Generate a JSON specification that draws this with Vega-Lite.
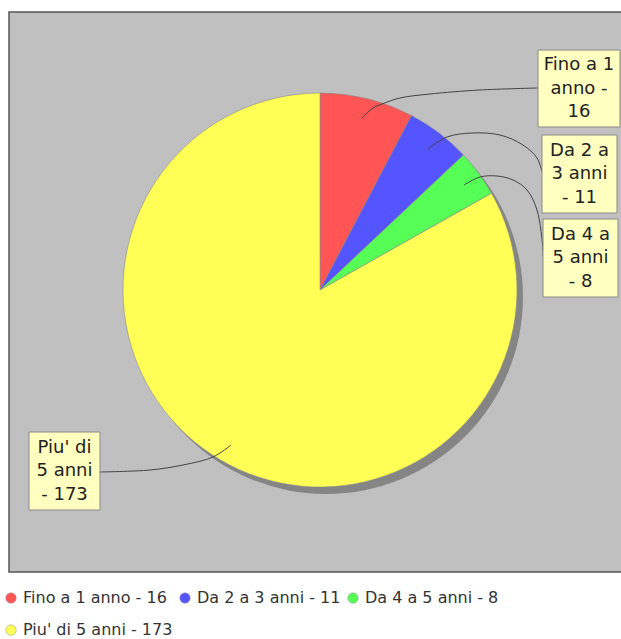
{
  "$schema": "https://vega.github.io/schema/vega-lite/v6.json",
  "width": 622,
  "height": 560,
  "autosize": {"type": "none"},
  "padding": {"left": 9, "top": 12, "right": 0, "bottom": 67},
  "background": "white",
  "config": {
    "view": {"fill": "#c0c0c0", "stroke": "#555555", "strokeWidth": 1.5},
    "font": "DejaVu Sans"
  },
  "datasets": {
    "torta": [
      {"categoria": "Fino a 1 anno", "valore": 16},
      {"categoria": "Da 2 a 3 anni", "valore": 11},
      {"categoria": "Da 4 a 5 anni", "valore": 8},
      {"categoria": "Piu' di 5 anni", "valore": 173}
    ],
    "linee": [
      {"serie": "a", "k": 1, "ux": 42, "uy": 172},
      {"serie": "a", "k": 2, "ux": 53, "uy": 182},
      {"serie": "a", "k": 3, "ux": 62, "uy": 186},
      {"serie": "a", "k": 4, "ux": 80, "uy": 192},
      {"serie": "a", "k": 5, "ux": 110, "uy": 196},
      {"serie": "a", "k": 6, "ux": 160, "uy": 200},
      {"serie": "a", "k": 7, "ux": 218, "uy": 202},
      {"serie": "b", "k": 1, "ux": 108, "uy": 141},
      {"serie": "b", "k": 2, "ux": 127, "uy": 153},
      {"serie": "b", "k": 3, "ux": 152, "uy": 157},
      {"serie": "b", "k": 4, "ux": 180, "uy": 155},
      {"serie": "b", "k": 5, "ux": 203, "uy": 145},
      {"serie": "b", "k": 6, "ux": 217, "uy": 132},
      {"serie": "b", "k": 7, "ux": 222, "uy": 118},
      {"serie": "c", "k": 1, "ux": 144, "uy": 105},
      {"serie": "c", "k": 2, "ux": 160, "uy": 113},
      {"serie": "c", "k": 3, "ux": 177, "uy": 114},
      {"serie": "c", "k": 4, "ux": 193, "uy": 110},
      {"serie": "c", "k": 5, "ux": 207, "uy": 100},
      {"serie": "c", "k": 6, "ux": 217, "uy": 80},
      {"serie": "c", "k": 7, "ux": 223, "uy": 40},
      {"serie": "c", "k": 8, "ux": 223, "uy": 34},
      {"serie": "d", "k": 1, "ux": -89, "uy": -155},
      {"serie": "d", "k": 2, "ux": -107, "uy": -167},
      {"serie": "d", "k": 3, "ux": -137, "uy": -175},
      {"serie": "d", "k": 4, "ux": -170, "uy": -180},
      {"serie": "d", "k": 5, "ux": -220, "uy": -182}
    ],
    "etichette": [
      {"testo": "Fino a 1\nanno -\n16", "x1": 218, "x2": 300, "y1": 240, "y2": 163},
      {"testo": "Da 2 a\n3 anni\n- 11", "x1": 222, "x2": 297, "y1": 155, "y2": 77},
      {"testo": "Da 4 a\n5 anni\n- 8", "x1": 223, "x2": 298, "y1": 71, "y2": -7},
      {"testo": "Piu' di\n5 anni\n- 173", "x1": -291, "x2": -220, "y1": -142, "y2": -220}
    ]
  },
  "layer": [
    {
      "data": {"name": "torta"},
      "transform": [{"aggregate": [{"op": "sum", "field": "valore", "as": "totale"}]}],
      "mark": {"type": "arc", "outerRadius": 197, "fill": "#858585"},
      "encoding": {
        "theta": {"field": "totale", "type": "quantitative"},
        "x": {"datum": 6, "type": "quantitative", "scale": {"domain": [-311, 311], "nice": false, "zero": false}, "axis": null},
        "y": {"datum": -7, "type": "quantitative", "scale": {"domain": [-282, 278], "nice": false, "zero": false}, "axis": null}
      }
    },
    {
      "data": {"name": "torta"},
      "transform": [
        {"window": [{"op": "row_number", "as": "idx"}]},
        {"calculate": "datum.categoria + ' - ' + datum.valore", "as": "voce"}
      ],
      "mark": {"type": "arc", "outerRadius": 197, "stroke": "#8a8a8a", "strokeWidth": 0.6},
      "encoding": {
        "theta": {"field": "valore", "type": "quantitative", "stack": true},
        "order": {"field": "idx", "type": "quantitative"},
        "color": {
          "field": "voce",
          "type": "nominal",
          "sort": null,
          "scale": {"range": ["#ff5555", "#5555ff", "#55ff55", "#ffff55"]},
          "legend": {
            "title": null,
            "orient": "none",
            "legendX": -6,
            "legendY": 578,
            "direction": "horizontal",
            "columns": 3,
            "gridAlign": "none",
            "columnPadding": 4,
            "rowPadding": 16,
            "symbolType": "circle",
            "symbolSize": 110,
            "symbolStrokeColor": "#999999",
            "symbolStrokeWidth": 0.5,
            "symbolOpacity": 1,
            "labelFont": "DejaVu Sans",
            "labelFontSize": 16,
            "labelColor": "#333333",
            "labelOffset": 4,
            "labelLimit": 400
          }
        },
        "x": {"datum": 0, "type": "quantitative", "scale": {"domain": [-311, 311], "nice": false, "zero": false}, "axis": null},
        "y": {"datum": 0, "type": "quantitative", "scale": {"domain": [-282, 278], "nice": false, "zero": false}, "axis": null}
      }
    },
    {
      "data": {"name": "linee"},
      "mark": {"type": "line", "interpolate": "catmull-rom", "stroke": "#444444", "strokeWidth": 1},
      "encoding": {
        "x": {"field": "ux", "type": "quantitative", "scale": {"domain": [-311, 311], "nice": false, "zero": false}, "axis": null},
        "y": {"field": "uy", "type": "quantitative", "scale": {"domain": [-282, 278], "nice": false, "zero": false}, "axis": null},
        "detail": {"field": "serie", "type": "nominal"},
        "order": {"field": "k", "type": "quantitative"}
      }
    },
    {
      "data": {"name": "etichette"},
      "mark": {"type": "rect", "fill": "#ffffc0", "stroke": "#8a8a8a", "strokeWidth": 1},
      "encoding": {
        "x": {"field": "x1", "type": "quantitative", "scale": {"domain": [-311, 311], "nice": false, "zero": false}, "axis": null},
        "x2": {"field": "x2"},
        "y": {"field": "y1", "type": "quantitative", "scale": {"domain": [-282, 278], "nice": false, "zero": false}, "axis": null},
        "y2": {"field": "y2"}
      }
    },
    {
      "data": {"name": "etichette"},
      "transform": [
        {"calculate": "(datum.x1 + datum.x2) / 2", "as": "cx"},
        {"calculate": "(datum.y1 + datum.y2) / 2", "as": "cy"}
      ],
      "mark": {"type": "text", "lineBreak": "\n", "font": "DejaVu Sans", "fontSize": 18, "lineHeight": 23.5, "align": "center", "baseline": "middle", "dy": -23.5, "color": "#222222"},
      "encoding": {
        "x": {"field": "cx", "type": "quantitative", "scale": {"domain": [-311, 311], "nice": false, "zero": false}, "axis": null},
        "y": {"field": "cy", "type": "quantitative", "scale": {"domain": [-282, 278], "nice": false, "zero": false}, "axis": null},
        "text": {"field": "testo", "type": "nominal"}
      }
    }
  ]
}
